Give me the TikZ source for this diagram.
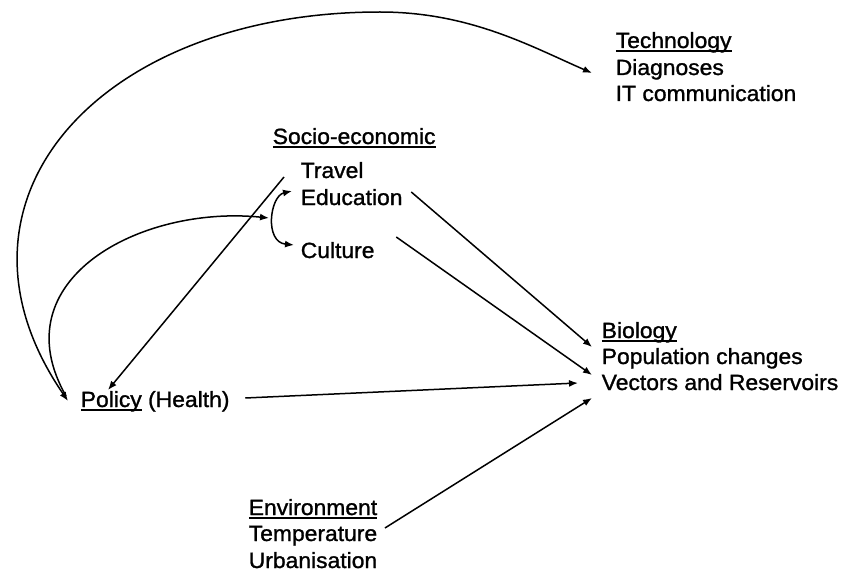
\documentclass[tikz,border=0pt]{standalone}
\usepackage{fontspec}
\setmainfont{Liberation Sans}[FakeStretch=1.04,FakeBold=1.2]
\usetikzlibrary{arrows.meta,calc}
\newcommand\utitle[1]{\setbox0\hbox{#1}\rlap{\rule[-4pt]{\wd0}{1.6pt}}\box0\relax}

\begin{document}
\begin{tikzpicture}[x=1pt,y=-1pt,>={Latex[length=9pt,width=7pt]},line width=1.5pt]
        \tikzstyle{every node}=[inner sep=0pt, anchor=base west, font=\fontsize{22}{26}\selectfont]
        \useasboundingbox (0,0) rectangle (849,583);
        % text blocks
        \node (tech) at (615,48) {\utitle{Technology}};
        \node (diag) at (615,75) {Diagnoses};
        \node (itcom) at (615,101) {IT communication};
        \node (socio) at (272,144) {\utitle{Socio-economic}};
        \node (travel) at (300,178) {Travel};
        \node (educ) at (300,205) {Education};
        \node (cult) at (300,258) {Culture};
        \node (bio) at (601,338) {\utitle{Biology}};
        \node (pop) at (601,364) {Population changes};
        \node (vec) at (601,390) {Vectors and Reservoirs};
        \node (policy) at (80,407) {\utitle{Policy} (Health)};
        \node (env) at (248,515) {\utitle{Environment}};
        \node (temp) at (248,541) {Temperature};
        \node (urb) at (248,568) {Urbanisation};
        % links
        \draw[<->] ($(policy.base west)+(-12,-6)$) .. controls (-70,200) and (100,12) .. (380,12)
                .. controls (470,12) and (532,47) .. ($(diag.base west)+(-23,-2)$);
        \draw[->] ($(policy.base west)+(-14,-11)$) .. controls (0,280) and (140,205) .. ($(educ.base west)+(-31,13)$);
        \draw[<->] ($(educ.base west)+(-8,-14)$) .. controls (270,196) and (264,242) .. ($(cult.base west)+(-6,-13)$);
        \draw[->] ($(travel.base west)+(-16,-1)$) -- ($(policy.base west)+(28,-17)$);
        \draw[->] ($(educ.base east)+(8,-13)$) -- ($(pop.base west)+(-9,-17)$);
        \draw[->] ($(cult.base east)+(21,-21)$) -- ($(vec.base west)+(-9,-15)$);
        \draw[->] ($(policy.base east)+(15,-9)$) -- ($(vec.base west)+(-23,-7)$);
        \draw[->] ($(temp.base east)+(7,-13)$) -- ($(vec.base west)+(-9,8)$);
    \end{tikzpicture}
\end{document}
